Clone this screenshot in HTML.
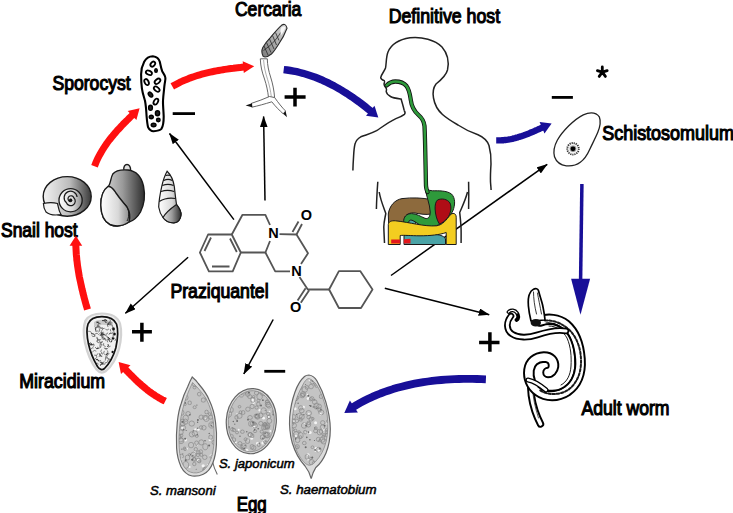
<!DOCTYPE html>
<html><head><meta charset="utf-8">
<style>
html,body{margin:0;padding:0;background:#fff;}
body{width:733px;height:513px;overflow:hidden;position:relative;}
svg{position:absolute;left:0;top:0;}
.t{font-family:"Liberation Sans",sans-serif;font-size:19.4px;fill:#000;stroke:#000;stroke-width:1.1px;}
.i{font-family:"Liberation Sans",sans-serif;font-size:12.5px;font-style:italic;fill:#000;stroke:#000;stroke-width:0.5px;}
.chem{fill:none;stroke:#555;stroke-width:1.8;stroke-linejoin:round;}
.ar{fill:none;stroke:#000;stroke-width:1.5;}
</style></head><body>
<svg width="733" height="513" viewBox="0 0 733 513">
<defs>
<marker id="ah" markerWidth="11" markerHeight="8" refX="10.5" refY="3.8" orient="auto" markerUnits="userSpaceOnUse">
<path d="M0,0 L11,3.8 L0,7.6 Z" fill="#000"/>
</marker>
<filter id="blur1" x="-20%" y="-20%" width="140%" height="140%"><feGaussianBlur stdDeviation="0.7"/></filter>
<linearGradient id="gc" x1="0" y1="1" x2="1" y2="0">
<stop offset="0" stop-color="#7a7a7a"/><stop offset="0.45" stop-color="#a8a8a8"/><stop offset="1" stop-color="#dadada"/>
</linearGradient>
<linearGradient id="g1" x1="0" y1="0" x2="1" y2="0">
<stop offset="0" stop-color="#f2f2f2"/><stop offset="0.55" stop-color="#bcbcbc"/><stop offset="1" stop-color="#3a3a3a"/>
</linearGradient>
<linearGradient id="g2" x1="0" y1="0" x2="1" y2="0">
<stop offset="0" stop-color="#e0e0e0"/><stop offset="0.5" stop-color="#9a9a9a"/><stop offset="1" stop-color="#2e2e2e"/>
</linearGradient>
<linearGradient id="g3" x1="0" y1="0" x2="1" y2="0">
<stop offset="0" stop-color="#ffffff"/><stop offset="0.6" stop-color="#d8d8d8"/><stop offset="1" stop-color="#8a8a8a"/>
</linearGradient>
<pattern id="tex" width="16" height="16" patternUnits="userSpaceOnUse">
<rect width="16" height="16" fill="#d2d2d2"/>
<circle cx="3.8" cy="8.7" r="1.0" fill="#f2f2f2"/><circle cx="10.0" cy="1.0" r="0.6" fill="#f2f2f2"/><circle cx="4.1" cy="3.7" r="1.6" fill="#f2f2f2"/><circle cx="8.7" cy="8.8" r="1.0" fill="#888"/><circle cx="3.7" cy="2.4" r="1.5" fill="#fff"/><circle cx="11.9" cy="10.7" r="0.7" fill="#9a9a9a"/><circle cx="9.5" cy="14.7" r="1.0" fill="#fff"/><circle cx="6.3" cy="12.8" r="1.0" fill="#888"/><circle cx="14.1" cy="1.6" r="0.7" fill="#b5b5b5"/><circle cx="4.1" cy="10.8" r="1.4" fill="#777"/><circle cx="6.7" cy="13.3" r="1.2" fill="#fff"/><circle cx="9.3" cy="14.5" r="1.3" fill="#9a9a9a"/><circle cx="13.7" cy="15.9" r="1.3" fill="#888"/><circle cx="11.2" cy="5.2" r="1.1" fill="#aaa"/><circle cx="11.4" cy="3.4" r="1.4" fill="#777"/><circle cx="1.4" cy="12.8" r="1.0" fill="#888"/><circle cx="0.3" cy="6.8" r="1.0" fill="#aaa"/><circle cx="8.8" cy="14.8" r="0.9" fill="#b5b5b5"/><circle cx="15.2" cy="15.5" r="0.9" fill="#777"/><circle cx="5.8" cy="2.2" r="1.5" fill="#fff"/><circle cx="7.4" cy="8.3" r="1.2" fill="#aaa"/><circle cx="14" cy="8" r="1.3" fill="#fff"/><circle cx="13" cy="12.5" r="1.1" fill="#f4f4f4"/>
</pattern>
</defs>

<!-- ===== TEXT ===== -->
<text class="t" x="52.40" y="89.60" textLength="78.30" lengthAdjust="spacingAndGlyphs">Sporocyst</text>
<text class="t" x="234.90" y="15.90" textLength="66.50" lengthAdjust="spacingAndGlyphs">Cercaria</text>
<text class="t" x="388.70" y="22.60" textLength="111.40" lengthAdjust="spacingAndGlyphs">Definitive host</text>
<text class="t" x="602.20" y="139.60" textLength="131.80" lengthAdjust="spacingAndGlyphs">Schistosomulum</text>
<text class="t" x="1.00" y="237.00" textLength="76.60" lengthAdjust="spacingAndGlyphs">Snail host</text>
<text class="t" x="170.40" y="298.30" textLength="98.20" lengthAdjust="spacingAndGlyphs">Praziquantel</text>
<text class="t" x="19.30" y="388.00" textLength="85.80" lengthAdjust="spacingAndGlyphs">Miracidium</text>
<text class="t" x="581.40" y="415.20" textLength="88.10" lengthAdjust="spacingAndGlyphs">Adult worm</text>
<text class="t" x="236.70" y="510.60" textLength="30.10" lengthAdjust="spacingAndGlyphs">Egg</text>
<text class="i" x="218.9" y="467.7" textLength="75.7" lengthAdjust="spacingAndGlyphs">S. japonicum</text>
<text class="i" x="150.0" y="494.6" textLength="65.6" lengthAdjust="spacingAndGlyphs">S. mansoni</text>
<text class="i" x="280.0" y="494.4" textLength="96.5" lengthAdjust="spacingAndGlyphs">S. haematobium</text>

<!-- ===== ARROWS ===== -->
<g stroke-linejoin="round">
<path d="M172.3,86.4 L174.2,85.3 L176.1,84.3 L178.0,83.3 L179.9,82.3 L181.9,81.4 L183.8,80.5 L185.8,79.7 L187.8,78.9 L189.7,78.1 L191.7,77.4 L193.8,76.7 L195.8,76.0 L197.8,75.4 L199.8,74.8 L201.9,74.2 L204.0,73.6 L206.0,73.1 L208.1,72.6 L210.2,72.1 L212.3,71.7 L214.3,71.3 L216.4,70.9 L218.5,70.5 L220.7,70.1 L222.8,69.8 L224.9,69.4 L227.0,69.1 L229.1,68.8 L231.2,68.5 L233.4,68.3 L235.5,68.0 L237.6,67.8 L239.8,67.6 L241.9,67.3 L244.0,67.1 L244.4,67.1" fill="none" stroke="#ff1010" stroke-width="7"/>
<path d="M243.8,73.1 L254.2,66.2 L242.7,61.3 Z" fill="#ff1010"/>
<path d="M94.5,166.2 L95.2,164.4 L95.9,162.7 L96.6,161.0 L97.4,159.3 L98.2,157.6 L99.1,155.9 L100.0,154.3 L100.9,152.7 L101.8,151.1 L102.8,149.5 L103.8,147.9 L104.8,146.4 L105.9,144.8 L106.9,143.3 L108.0,141.8 L109.1,140.3 L110.3,138.9 L111.4,137.4 L112.6,136.0 L113.8,134.5 L115.0,133.1 L116.2,131.7 L117.4,130.3 L118.7,129.0 L120.0,127.6 L121.2,126.2 L122.5,124.9 L123.8,123.5 L125.1,122.2 L126.5,120.9 L127.8,119.6 L129.1,118.3 L130.5,116.9 L131.8,115.6 L132.9,114.6" fill="none" stroke="#ff1010" stroke-width="7"/>
<path d="M136.4,120.0 L139.6,108.2 L127.7,110.9 Z" fill="#ff1010"/>
<path d="M87.5,309.5 L87.0,307.7 L86.4,305.9 L85.9,304.1 L85.4,302.3 L84.9,300.4 L84.4,298.6 L83.9,296.8 L83.5,295.0 L83.0,293.2 L82.6,291.3 L82.1,289.5 L81.7,287.7 L81.3,285.8 L80.9,284.0 L80.5,282.1 L80.1,280.3 L79.7,278.5 L79.3,276.6 L79.0,274.8 L78.7,272.9 L78.4,271.1 L78.1,269.2 L77.8,267.3 L77.5,265.5 L77.3,263.6 L77.1,261.8 L76.8,259.9 L76.7,258.0 L76.5,256.1 L76.3,254.3 L76.2,252.4 L76.1,250.5 L76.0,248.6 L75.9,246.8 L75.8,244.9 L75.8,244.6" fill="none" stroke="#ff1010" stroke-width="7"/>
<path d="M82.2,245.8 L75.9,235.8 L69.6,245.8 Z" fill="#ff1010"/>
<path d="M165.3,401.2 L163.9,400.5 L162.5,399.8 L161.2,399.1 L159.8,398.3 L158.5,397.6 L157.2,396.8 L155.8,396.0 L154.6,395.1 L153.3,394.3 L152.0,393.4 L150.8,392.5 L149.5,391.6 L148.3,390.7 L147.1,389.7 L145.9,388.8 L144.7,387.8 L143.5,386.8 L142.3,385.8 L141.2,384.8 L140.0,383.8 L138.9,382.7 L137.7,381.7 L136.6,380.6 L135.5,379.6 L134.4,378.5 L133.3,377.4 L132.2,376.3 L131.1,375.2 L130.0,374.1 L128.9,373.0 L127.8,371.9 L126.8,370.8 L125.7,369.6 L124.9,368.8" fill="none" stroke="#ff1010" stroke-width="7"/>
<path d="M130.5,365.3 L118.6,362.0 L121.0,374.1 Z" fill="#ff1010"/>
<path d="M283.7,69.6 L287.0,70.0 L290.2,70.5 L293.5,71.1 L296.7,71.7 L299.8,72.5 L303.0,73.3 L306.1,74.2 L309.2,75.2 L312.2,76.2 L315.3,77.3 L318.3,78.5 L321.3,79.7 L324.2,81.1 L327.1,82.4 L330.0,83.9 L332.9,85.3 L335.7,86.9 L338.6,88.5 L341.4,90.1 L344.1,91.8 L346.9,93.5 L349.6,95.3 L352.3,97.1 L354.9,99.0 L357.6,100.9 L360.2,102.8 L362.8,104.8 L365.4,106.8 L367.9,108.8 L370.5,110.9 L371.2,111.5" fill="none" stroke="#180f98" stroke-width="7.4"/>
<path d="M366.0,115.8 L378.3,117.5 L374.5,105.7 Z" fill="#180f98"/>
<path d="M496.2,140.4 L497.7,140.4 L499.2,140.4 L500.7,140.4 L502.2,140.3 L503.6,140.2 L505.1,140.0 L506.5,139.8 L508.0,139.6 L509.4,139.3 L510.8,139.1 L512.3,138.8 L513.7,138.4 L515.1,138.1 L516.5,137.7 L517.9,137.3 L519.3,136.8 L520.7,136.4 L522.1,135.9 L523.5,135.4 L524.8,134.9 L526.2,134.4 L527.6,133.9 L529.0,133.4 L530.3,132.8 L531.7,132.2 L533.0,131.7 L534.4,131.1 L535.7,130.5 L537.1,129.9 L538.4,129.3 L539.8,128.7 L541.1,128.1 L542.5,127.5 L543.2,127.2" fill="none" stroke="#180f98" stroke-width="6.4"/>
<path d="M544.5,133.4 L551.6,123.6 L539.6,122.0 Z" fill="#180f98"/>
<path d="M485.9,379.3 L481.4,379.1 L477.0,379.0 L472.5,378.9 L468.0,378.9 L463.5,378.9 L459.1,379.0 L454.6,379.1 L450.1,379.3 L445.6,379.6 L441.2,380.0 L436.7,380.4 L432.2,380.9 L427.8,381.5 L423.4,382.1 L419.0,382.9 L414.6,383.7 L410.2,384.6 L405.9,385.6 L401.6,386.7 L397.3,387.8 L393.0,389.1 L388.8,390.5 L384.6,391.9 L380.4,393.5 L376.3,395.2 L372.2,396.9 L368.2,398.8 L364.2,400.8 L360.2,402.9 L356.3,405.1 L352.9,407.2" fill="none" stroke="#180f98" stroke-width="7.8"/>
<path d="M349.9,400.6 L344.3,412.9 L357.9,412.6 Z" fill="#180f98"/>
<path d="M581.9,184 L580.6,280" stroke="#180f98" stroke-width="3.5" fill="none"/>
<path d="M571.1,278.8 L590.1,278.8 L580.5,314.7 Z" fill="#180f98"/>
</g>

<!-- ===== PLUS / MINUS ===== -->
<g stroke="#000" stroke-width="2.8" fill="none">
<path d="M172.7,113.6 H195"/>
<path d="M551.8,97.4 H572.9"/>
<path d="M264.3,371.3 H285.2"/>
</g>
<g stroke="#000" stroke-width="3.5" fill="none">
<path d="M284.6,96.9 H305.6 M295,87.8 V106.6"/>
<path d="M132,331.8 H151.9 M141.9,322.7 V341.7"/>
<path d="M479.1,342.6 H499.5 M489.9,332.3 V351.7"/>
</g>
<path d="M602.3,72.2 L602.3,67.0 M602.3,72.2 L607.2,70.6 M602.3,72.2 L605.4,76.4 M602.3,72.2 L599.2,76.4 M602.3,72.2 L597.4,70.6" stroke="#000" stroke-width="2.8" stroke-linecap="round" fill="none"/>

<!-- ===== BLACK THIN ARROWS (praziquantel) ===== -->
<g class="ar">
<line x1="233.9" y1="219.6" x2="169.5" y2="133.5" marker-end="url(#ah)"/>
<line x1="265" y1="200.4" x2="263.6" y2="116.5" marker-end="url(#ah)"/>
<line x1="188.1" y1="257.2" x2="125.4" y2="313.3" marker-end="url(#ah)"/>
<line x1="273.2" y1="319.5" x2="243.8" y2="374" marker-end="url(#ah)"/>
<line x1="384.8" y1="288.3" x2="489.2" y2="314.7" marker-end="url(#ah)"/>
<line x1="391" y1="275.5" x2="547.2" y2="164.3" marker-end="url(#ah)"/>
</g>

<!-- ===== SPOROCYST ===== -->
<g>
<path d="M152.8,56.3 C149,56.3 146,58.5 144.2,61.8 C142,66 141,70 141.1,74.3 C141.1,79 141.3,84 141.9,88.3 C142.5,93 144,97 145,100.8 C146,106 146.3,111 146.6,116.4 C147,121 147.3,124.5 148.1,127.3 C149.5,130 151.5,131.3 153.6,131.2 C157,131 160,130.5 161.4,128.9 C163.3,126 163.7,121 163.7,116.4 C163.5,110 162.8,105 163,100.8 C163.3,95 164,90 164.5,85.2 C165,81 165.8,79 165.3,77.4 C164.8,74.5 163,73 162.2,71.2 C161,68 160.5,64.5 159.8,61.8 C159,58.8 157.5,57 152.8,56.3 Z" fill="#fff" stroke="#000" stroke-width="2.1"/>
<g fill="#fff" stroke="#000" stroke-width="1.8">
<ellipse cx="152.8" cy="64.1" rx="2.8" ry="2" transform="rotate(-50 152.8 64.1)"/>
<ellipse cx="148.9" cy="72.7" rx="3.2" ry="2" transform="rotate(25 148.9 72.7)"/>
<ellipse cx="146.6" cy="82.1" rx="2" ry="3.2" transform="rotate(-25 146.6 82.1)"/>
<ellipse cx="157.5" cy="81.3" rx="3.3" ry="2" transform="rotate(-40 157.5 81.3)"/>
<ellipse cx="156.7" cy="89.1" rx="3.3" ry="2" transform="rotate(40 156.7 89.1)"/>
<ellipse cx="155.9" cy="101.6" rx="2" ry="3.2" transform="rotate(30 155.9 101.6)"/>
</g>
<g fill="#222" stroke="#000" stroke-width="1.4">
<ellipse cx="156" cy="70.4" rx="1.3" ry="1.8"/>
<ellipse cx="150.5" cy="94.6" rx="1.7" ry="2.8" transform="rotate(-40 150.5 94.6)"/>
<ellipse cx="150.5" cy="107.8" rx="1.9" ry="2.6"/>
<ellipse cx="157.5" cy="113.3" rx="2.1" ry="2.5"/>
<ellipse cx="151.3" cy="117" rx="2" ry="1.8"/>
<ellipse cx="158.3" cy="120" rx="1.8" ry="1.7"/>
<ellipse cx="153.6" cy="125" rx="2.4" ry="1.8"/>
</g>
</g>

<!-- ===== CERCARIA ===== -->
<g>
<path d="M281.5,25.3 Q285.7,22.5 287,28.2 C284.5,35 281.5,40 278.6,44.2 C276,48.3 273.8,51.8 271.4,54 Q266,58.3 263.2,56.4 Q260.8,52 262.8,47.6 C265,43.5 267.3,40.6 270.1,37.8 C273.5,33.8 277.5,28.8 281.5,25.3 Z" fill="url(#gc)" stroke="#2a2a2a" stroke-width="1.1"/>
<g stroke="#2a2a2a" stroke-width="0.8" fill="none">
<path d="M264,46 L268,55 M266.5,42.5 L271,52.5 M269.5,39 L274,49 M272.5,35.5 L276.5,45 M275.5,32.5 L279,40.5"/>
<path d="M263.5,50.5 C267,48 271,45 274.5,41 C277.5,37.5 280.5,33 283,29"/>
</g>
<path d="M281.3,27.6 C282.8,26 285,26 285.2,27.8 C284.5,30.5 282.8,33 281.2,35 C280,33 280.2,29.5 281.3,27.6 Z" fill="#f7f7f7"/>
<path d="M260.3,58.8 C260.5,66 262,72 264.5,79 C266.5,85 267.8,91 268.5,97.5 L274.6,97.5 C274,90 272.8,84 270.6,77 C268.6,71 267.4,65 267.3,58.8 Z" fill="#fff" stroke="#555" stroke-width="0.9"/>
<path d="M263.6,60 C264,67 265.5,73 267.6,79.5 C269.5,85.5 270.6,91 271.3,96.5" fill="none" stroke="#777" stroke-width="0.6"/>
<path d="M269.5,96.5 C264,99 258,101.2 251.5,103.3 L251.8,107.2 C258.5,105.8 264.5,104 271.8,101.8 C275.5,106.5 279.5,110.5 283.2,113.8 L285.6,111 C282,107.5 278.5,103 274.6,97.5 Z" fill="#fff" stroke="#555" stroke-width="0.9"/>
<path d="M252,103.2 L245.6,105.6 L252.2,107.3 Z" fill="#111"/>
<path d="M283.2,113.8 L287,117.2 L285.6,111 Z" fill="#111"/>
</g>

<!-- ===== SNAILS ===== -->
<g stroke="#1a1a1a" stroke-width="1.4">
<ellipse cx="67.2" cy="196.4" rx="24" ry="19.8" fill="url(#g1)"/>
<path d="M43.4,203.5 C48,202.5 53,202.3 57.5,203.5 C58.5,207 58.5,211 61,214.5 C55,215.5 49,214.5 46,212 C44.2,209.5 43.5,206.5 43.4,203.5 Z" fill="#f4f4f4" stroke-width="1.2"/>
<circle cx="70.6" cy="200.2" r="11.6" fill="url(#g3)" stroke-width="1.3"/>
<path d="M70.6,200.2 m0,-1.2 a1.4,1.4 0 1 1 -1.6,2 a3,3 0 1 1 4.8,-3.3 a4.6,4.6 0 1 1 -7.5,4.8 a6.5,6.5 0 1 1 10.8,-5.5" fill="none" stroke-width="1.2"/>
<circle cx="70.6" cy="200.2" r="1.6" fill="#111" stroke="none"/>
</g>
<g stroke="#1a1a1a" stroke-width="1.4">
<path d="M124,170.8 C123,166.5 125,164.5 127,164.5 C129,164.5 131,166.5 130.5,170.8 Z" fill="#ddd"/>
<path d="M112.8,174 C116,170 122,169.5 128,170 C136,171 141.5,177 143.5,186 C145.5,196 144,205 140.5,212 C137,218 133,221 129,222 C123,226 116,227 110,224.5 C104,221.5 101,214 100.8,205 C100.8,196 103,190 108,186.5 C110.5,185 110.5,178 112.8,174 Z" fill="url(#g2)"/>
<path d="M108,186.5 C112,186 114,190 116,193 C120,199 124,203 127,207 C130,212 130.5,217 129,222 C123,226 116,227 110,224.5 C104,221.5 101,214 100.8,205 C100.8,196 103,190 108,186.5 Z" fill="url(#g3)"/>
<path d="M121,200 C124,203 127.5,206 128.5,211 C129,215 128.5,219 127,221" fill="none" stroke-width="1"/>
</g>
<g stroke="#1a1a1a" stroke-width="1.2">
<path d="M167.1,171.3 C165,175 163,181 161.7,186.6 C160.5,192 159,199 158.7,207 C159.5,212 161,215 163,217.5 C165,220.5 169,222.8 173.8,222.9 C177.5,222.5 180.5,220 181,215 C181.5,211 179.5,208.5 176.5,204.5 C175.5,197 174.8,192 174.4,187 C173.5,181 172,176 167.1,171.3 Z" fill="url(#g3)"/>
<path d="M163,217.5 C165.5,213 170,209 176.5,204.5 C179.5,208.5 181.5,211 181,215 C180.5,220 177.5,222.5 173.8,222.9 C169,222.8 165,220.5 163,217.5 Z" fill="url(#g2)"/>
<path d="M165.5,175.5 C167,175 169,175 170,175.5 M163.8,180.5 C166.5,179 169.5,179 172.3,180.5 M162.3,185.5 C166,184 170,184 173.6,185.5 M161,191.5 C165,190 170,190 174.2,191.5 M159.3,201.5 C164,198.5 170,197.5 175.6,198.5" fill="none"/>
</g>

<!-- ===== HUMAN ===== -->
<g fill="none" stroke="#222" stroke-width="1.5" stroke-linejoin="round">
<path d="M404.2,110.5 C403,105 401.5,101 401.2,99.1 C397,98.5 393,98 390.5,96.5 C388,95 386.5,93.5 386.2,91.5 C386.5,90 386.8,89.5 386.3,88.5 C385,87 384,85.5 384,84 C384.5,82.5 385,81.5 384.3,80.6 C382.5,80 380.8,79 380.7,77.6 C381.5,74 384.5,71 385.5,68 C386.5,63 386,57 388,52 C391,45 399,39.5 410,37.8 C422,36.5 435,40 442,47 C448,54 449,63 447.5,70 C446,76 441,80 436,84 C433,88 432.8,94 433.5,98 C434.5,104 437,109.5 442.5,114.5 C447,118.5 452,121.5 458,125 C464,129 471,132.3 478,134.8 C483,137 487,140 489,145.5 C490.5,151 491.2,158 491,164 C490.6,170 490.3,176 490.5,182 C490.7,185 491,187.5 491.1,190"/>
<path d="M404.2,110.5 C405.2,112 405.6,113.2 404.4,114.4 C402,116.4 399,117.5 395.9,118.6 C390,121.2 383.5,126 376.6,130.7 C371,133.8 365,135 360.8,136.8 C357.5,138.5 355.8,141 355,144 C354,148 353.8,152 353.6,156 C353.2,162 353,166 352.9,170.5"/>
<path d="M377.8,181.8 C377.2,190 376.6,200 376.4,209 M379.2,192 C380.5,200 383.5,207 385.8,213.5 C385,218 383.8,222 383.8,227 C384,233 384.3,238 384.5,243"/>
<path d="M468.6,181.8 C468.8,190 468.8,200 468.6,209 M467.5,192 C465.5,200 462,207 459.7,212.5 C460.3,218 461,224 461.1,230 C461.2,235 461.1,239 461.1,243"/>
</g>
<!-- organs -->
<g stroke="#1a1a1a" stroke-width="1" stroke-linejoin="round">
<path d="M388.3,214 C389.5,205.5 395,199.8 402,198.6 C412,197.4 422,197.8 431,199.5 L431,214 C426,215 420,214 415,213 C410,212.5 406,214 404.5,218 L404,223 L388.6,223.5 Z" fill="#8d6a3d"/>
<path d="M404,235 C412,234 426,234 436,234.5 C441,235 444.5,236.5 445.5,239 L445.5,244.5 L404,244.5 Z" fill="#4aa3a6"/>
<path d="M406,217 C409,215.5 413,216 415,219 L416,225 L407,225.5 C405,223 404.8,219.5 406,217 Z" fill="#4aa3a6"/>
<path d="M424.8,186 C425.5,189 428.5,190.5 432.5,190.8 C438.5,190.8 446.5,190.4 451.5,194 C455.5,198 455.3,205 452.8,211 C450.3,216.5 446,220.5 441,223.5 C436,226.5 430,227.8 425,226.8 C419.5,225.8 416.5,222 412,220.2 C409.5,219.6 408,221.2 408.8,224 L411.5,227.5 C407.5,228.3 404.2,226 403.7,222 C403.3,217.2 406.5,213.6 411.5,213.6 C416.5,213.6 420.5,216.5 425,218.3 C428.3,219.5 430.3,216.5 430.2,212 C430,204 426,196 424.8,186 Z" fill="#2e9a3b"/>
<path d="M437.5,200 C441.5,198 447.5,199 450,203 C452,208 450.5,214 447.5,218 C445,221 442,223 439.5,224.2 C436.8,220.2 435.3,214.2 435.1,209 C435,205 435.5,202 437.5,200 Z" fill="#b00d16"/>
<path d="M388.3,244.5 L388.3,224.5 C388.5,221.5 391.5,220.5 395.5,220.8 C410,222.3 424,226.8 436.5,225.8 C443,225 446.5,219.5 450,215.2 C452.5,212.3 456.2,213 456.2,217.2 L456.2,244.5 L446.2,244.5 L446.2,232.5 C440,234.8 430,235.8 420,235.8 C411,235.8 404,235 400.2,235.5 L400.2,244.5 Z" fill="#f3cd20"/>
<path d="M391.2,239.5 L400,239.5 L400,243.6 L391.2,243.6 Z M403.8,239.3 L410.5,238.8 L410.5,243.6 L403.8,243.6 Z" fill="#e3171b" stroke="none"/>
</g>
<!-- esophagus -->
<path d="M386.6,85.4 C389,83 392,81.5 395.3,81.5 C400,81.5 404,83 406.5,86 C409.5,90 410,95 410.8,100 C411.5,106 414,111 418.5,115 C422,118 424,121 424.5,126 C425.2,140 425.5,165 426,186 C426.5,190 427,191 427.5,192" fill="none" stroke="#111" stroke-width="4.3" stroke-linecap="round"/>
<path d="M386.6,85.4 C389,83 392,81.5 395.3,81.5 C400,81.5 404,83 406.5,86 C409.5,90 410,95 410.8,100 C411.5,106 414,111 418.5,115 C422,118 424,121 424.5,126 C425.2,140 425.5,165 426,186 C426.5,190 427,191 427.5,192" fill="none" stroke="#2e9a3b" stroke-width="2.6" stroke-linecap="round"/>

<!-- ===== SCHISTOSOMULUM ===== -->
<g transform="translate(0.3,0.8)">
<path d="M591,112 C594,112 597,113 599,116 C600.5,120 599.8,126 597.5,131.5 C595,137.5 592,143 589.5,148.5 C587.5,153 585,158 580,161.5 C576,164.5 571,165.5 566,165 C560,164.3 556,161 554.2,156 C552.8,150.5 554,145 557,139.5 C560,134 564,129.5 568.5,125 C573,120.5 578,116.5 583,114 C586,112.6 588.5,112 591,112 Z" fill="#fff" stroke="#222" stroke-width="1.3"/>
<circle cx="572.7" cy="148" r="5.8" fill="#f2f2f2" stroke="#333" stroke-width="1.8" stroke-dasharray="1.2 0.9"/>
<circle cx="572.7" cy="148" r="3.3" fill="#999"/>
<circle cx="572.7" cy="148" r="2.4" fill="#000"/>
</g>

<!-- ===== MIRACIDIUM ===== -->
<g>
<clipPath id="mirclip"><path d="M101.9,316.6 C108,316.6 114,318.5 116.5,324 C118.5,330 117.5,340 115.8,348 C113.5,356 109,364 104.5,368.5 C102,370.5 99.5,369.5 97.5,366.5 C93,359 90,351 88.5,344 C87,337 86.3,329 88,324 C90,318.8 95.5,316.6 101.9,316.6 Z"/></clipPath>
<path d="M102,313.5 C110,313.5 117.5,316.5 120,323.5 C122,331 121,341 119,349 C116.5,358 111.5,366.5 106,371 C102.5,373.5 99,372.5 96.5,369.5 C91,362.5 87,352 85,343 C83.5,336 83,327 85.5,320.5 C88.5,315.5 95,313.5 102,313.5 Z" fill="#eeeeee" stroke="#d2d2d2" stroke-width="2.2" filter="url(#blur1)"/>
<path d="M101.9,316.6 C108,316.6 114,318.5 116.5,324 C118.5,330 117.5,340 115.8,348 C113.5,356 109,364 104.5,368.5 C102,370.5 99.5,369.5 97.5,366.5 C93,359 90,351 88.5,344 C87,337 86.3,329 88,324 C90,318.8 95.5,316.6 101.9,316.6 Z" fill="#f0f0f0"/>
<g clip-path="url(#mirclip)">
<path d="M94,322 C98,319 106,319 113,322 L113,327 C106,324 99,324 94,327 Z" fill="#c8c8c8"/>
<path d="M106.4,354.6 Q109.0,353.8 107.5,350.8 M102.1,328.8 Q101.5,326.7 99.1,328.0 M110.4,324.3 Q112.0,323.9 111.1,322.1 M106.3,322.6 Q107.7,324.8 110.0,322.6 M94.9,327.2 Q96.5,329.2 98.6,326.8 M104.1,351.2 Q102.3,353.3 105.2,355.0 M114.0,331.5 Q112.4,331.3 112.5,333.3 M97.4,347.4 Q98.7,349.4 100.8,347.4 M98.5,332.1 Q100.5,331.8 99.7,329.4 M97.8,341.0 Q98.8,339.9 97.2,339.0 M110.0,359.9 Q111.1,362.2 113.5,360.3 M99.3,346.1 Q100.0,347.4 101.3,346.2 M94.5,355.3 Q96.8,356.7 98.0,353.6 M98.6,334.4 Q97.6,332.2 95.1,333.9 M91.6,333.7 Q91.9,331.1 88.6,331.3 M98.5,364.1 Q98.0,362.3 96.0,363.3 M97.9,325.2 Q98.0,326.8 99.9,326.3 M100.4,328.3 Q100.4,325.8 97.3,326.3 M101.8,337.9 Q102.3,340.5 105.4,339.2 M106.7,357.0 Q106.5,359.0 108.9,358.8 M97.3,339.6 Q98.7,341.7 101.0,339.5 M102.7,353.9 Q101.5,352.6 100.1,354.3 M100.3,323.6 Q97.6,323.0 97.5,326.4 M103.0,333.6 Q103.0,335.4 105.1,335.0 M99.1,356.9 Q101.3,355.9 99.6,353.5 M107.6,355.5 Q105.2,355.2 105.4,358.1 M96.9,341.3 Q99.0,340.2 97.3,337.9 M107.2,346.2 Q108.2,348.1 110.3,346.4 M96.0,350.9 Q94.2,349.2 92.5,351.8 M107.1,357.5 Q104.8,357.4 105.2,360.2 M109.7,359.1 Q107.1,358.9 107.5,362.0 M113.4,351.8 Q115.2,353.9 117.2,351.2 M103.5,343.5 Q102.3,345.8 105.4,346.7 M115.2,340.8 Q116.7,338.9 114.0,337.6 M109.4,324.9 Q111.5,324.1 110.0,321.8 M107.6,337.9 Q108.1,335.4 105.1,335.4 M106.8,353.5 Q107.5,355.0 109.1,353.9 M101.3,349.8 Q99.6,351.4 102.0,353.1 M102.2,327.8 Q102.6,329.3 104.3,328.5 M97.9,325.4 Q97.0,326.6 98.6,327.4 M102.0,335.8 Q102.3,333.6 99.6,333.7 M96.8,337.3 Q96.4,339.9 99.5,339.7 M106.2,320.9 Q105.6,319.1 103.6,320.2 M111.9,337.8 Q114.2,337.4 113.2,334.8 M99.3,323.4 Q99.4,321.2 96.8,321.6 M106.0,334.3 Q107.4,334.7 107.6,333.0 M92.0,345.4 Q92.3,343.8 90.3,343.9 M106.6,362.3 Q104.7,361.9 104.6,364.4 M95.3,331.2 Q96.6,332.6 98.1,330.7 M105.7,329.5 Q107.0,331.1 108.7,329.2 M100.6,332.6 Q101.9,334.2 103.6,332.3 M97.0,340.8 Q96.6,343.0 99.4,343.0 M101.4,331.2 Q103.8,330.3 102.1,327.7 M110.9,328.8 Q109.4,329.5 110.6,331.1 M106.0,340.7 Q106.8,338.6 104.1,338.1 M109.8,322.1 Q111.4,321.3 110.0,319.5 M103.9,333.5 Q101.9,334.1 103.1,336.4 M102.0,334.8 Q103.8,333.5 101.9,331.6 M101.8,363.7 Q103.8,364.3 104.1,361.7 M101.0,345.9 Q102.5,344.2 100.1,342.8 M102.5,363.4 Q100.6,362.9 100.4,365.2 M97.3,359.2 Q97.7,361.7 100.7,360.6 M108.4,338.5 Q106.1,339.3 107.6,342.0 M102.4,344.6 Q101.4,343.0 99.7,344.6 M93.3,346.5 Q94.8,346.2 94.1,344.5 M95.4,358.6 Q97.7,357.9 96.3,355.4 M112.6,327.4 Q113.5,324.8 110.2,324.3 M108.9,323.0 Q106.4,323.8 107.9,326.7 M93.2,347.8 Q91.7,347.0 91.2,348.9 M92.0,335.7 Q92.2,337.2 93.9,336.6" fill="none" stroke="#666" stroke-width="0.8" stroke-linecap="round"/>
<path d="M102.0,335.4 Q101.2,337.9 104.4,338.3 M104.5,348.1 Q105.1,349.9 107.2,348.8 M108.7,339.5 Q109.9,338.4 108.3,337.2 M103.2,364.0 Q103.2,361.6 100.2,362.1 M99.7,354.8 Q99.6,356.6 101.8,356.3 M107.9,353.7 Q106.5,353.0 106.0,354.8 M96.5,326.9 Q94.1,327.8 95.8,330.5 M99.6,341.6 Q100.4,343.4 102.4,342.0 M105.7,322.3 Q105.5,319.7 102.4,320.5 M91.3,344.1 Q92.0,345.4 93.5,344.3 M102.9,363.9 Q101.2,363.0 100.5,365.2 M106.9,320.9 Q106.8,319.2 104.8,319.7 M90.5,344.9 Q90.7,343.3 88.7,343.4 M95.6,347.8 Q96.2,349.6 98.3,348.5 M107.9,346.7 Q109.3,346.1 108.2,344.5 M98.7,360.9 Q98.6,358.9 96.2,359.5 M111.4,333.1 Q110.0,332.2 109.2,334.1 M101.4,332.9 Q101.5,335.2 104.2,334.6 M111.6,341.9 Q112.8,340.6 111.0,339.4 M109.7,338.1 Q107.5,339.9 110.1,342.0 M100.2,335.4 Q102.1,335.6 102.0,333.3 M107.7,324.9 Q109.5,324.9 109.1,322.8 M94.8,336.2 Q95.2,333.5 91.8,333.7 M98.9,323.3 Q98.6,321.7 96.8,322.5 M91.4,344.9 Q92.3,343.7 90.7,342.9" fill="none" stroke="#333" stroke-width="1" stroke-linecap="round"/>
</g>
<path d="M101.9,316.6 C108,316.6 114,318.5 116.5,324 C118.5,330 117.5,340 115.8,348 C113.5,356 109,364 104.5,368.5 C102,370.5 99.5,369.5 97.5,366.5 C93,359 90,351 88.5,344 C87,337 86.3,329 88,324 C90,318.8 95.5,316.6 101.9,316.6 Z" fill="none" stroke="#111" stroke-width="1.7"/>
<g fill="#111">
<ellipse cx="113.5" cy="329" rx="1.4" ry="1.8"/>
<ellipse cx="114.5" cy="334" rx="1.3" ry="1.6"/>
<ellipse cx="113" cy="338.5" rx="1.1" ry="1.3"/>
<ellipse cx="112.5" cy="352" rx="1" ry="1.2"/>
</g>
</g>

<!-- ===== EGGS ===== -->
<clipPath id="ce1"><path d="M192.6,382.5 C197,387 202,392 206,398.5 C210,406 212.5,414 213.5,423 C214.2,431 214.2,438 213.8,445 C213.2,452 211.8,458 209.5,462.5 C207,467.5 203.5,471 199.5,472.3 C195.5,473.5 191.5,473 188,471 C184.5,468.5 182,464 180.5,458.5 C179.2,452 178.8,444 179,436 C179.3,427 180.5,418 182.5,410 C184.5,401 188,392 192.6,382.5 Z"/></clipPath>
<clipPath id="ce2"><ellipse cx="251.3" cy="421.2" rx="23" ry="30.6" transform="rotate(4 251.3 421.2)"/></clipPath>
<clipPath id="ce3"><path d="M308.5,378.5 C313,379.5 316.5,384 319.5,390 C323,397.5 325.8,406 327.2,415 C328.3,424 328,433 326.3,441 C324.3,449.5 320.5,456.5 315.2,462 C313,464.3 311,465.3 309,465.2 C306,464.8 303,461.5 300,457 C296,451 293.5,443 292.5,434.5 C291.6,426 292,417 293.8,408.5 C295.7,399.5 299,391.5 302.8,385 C304.5,381.5 306.3,379 308.5,378.5 Z"/></clipPath>
<g>
<path d="M212.6,462 C213.5,466 215,470 217.3,474.5" fill="none" stroke="#6a6a6a" stroke-width="1.1"/>
<path d="M192.2,377 C194.5,379 196.5,381 198.3,383.5 C203,389 206.8,394 209.2,400 C212.5,407 214.6,414 215.5,422 C216.6,430 216.8,437 216.4,444.4 C216,452 214.8,458 212.8,463 C210.5,469 207,472.5 203.3,474.2 C199.5,476 195.5,476.3 192.2,476 C187.5,475 183.5,471.5 181,466.7 C178.5,461 177,455 176.6,448 C176.2,440 176.4,431 177.3,422 C178.2,414 179.5,408 181.2,403.5 C183,397 185,392 187.6,387 C189,383.5 190.5,380 192.2,377 Z" fill="#dcdcdc" stroke="#656565" stroke-width="1.2"/>
<path d="M192.6,382.5 C197,387 202,392 206,398.5 C210,406 212.5,414 213.5,423 C214.2,431 214.2,438 213.8,445 C213.2,452 211.8,458 209.5,462.5 C207,467.5 203.5,471 199.5,472.3 C195.5,473.5 191.5,473 188,471 C184.5,468.5 182,464 180.5,458.5 C179.2,452 178.8,444 179,436 C179.3,427 180.5,418 182.5,410 C184.5,401 188,392 192.6,382.5 Z" fill="#c4c4c4"/>
<g clip-path="url(#ce1)"><g fill="#f4f4f4"><circle cx="185.6" cy="440.1" r="1.3"/><circle cx="197.6" cy="460.3" r="1.3"/><circle cx="209.7" cy="403.4" r="1.4"/><circle cx="208.0" cy="465.0" r="1.1"/><circle cx="189.7" cy="466.9" r="1.0"/><circle cx="214.9" cy="463.7" r="0.9"/><circle cx="186.9" cy="448.8" r="1.0"/><circle cx="181.6" cy="458.6" r="1.1"/><circle cx="207.2" cy="393.6" r="1.1"/><circle cx="203.4" cy="383.6" r="1.0"/><circle cx="203.2" cy="465.8" r="1.6"/><circle cx="182.3" cy="428.5" r="1.4"/><circle cx="196.6" cy="445.1" r="1.0"/><circle cx="180.6" cy="391.8" r="0.8"/><circle cx="198.4" cy="429.4" r="1.3"/><circle cx="183.4" cy="399.0" r="1.0"/><circle cx="209.1" cy="473.1" r="1.5"/><circle cx="181.5" cy="387.7" r="1.6"/><circle cx="195.1" cy="452.4" r="1.1"/><circle cx="195.3" cy="429.4" r="1.1"/><circle cx="200.2" cy="383.2" r="1.4"/><circle cx="209.2" cy="398.7" r="1.2"/><circle cx="205.4" cy="419.3" r="1.0"/><circle cx="184.1" cy="429.2" r="0.8"/><circle cx="211.0" cy="455.8" r="1.4"/><circle cx="209.8" cy="439.9" r="1.1"/></g><path d="M192.1,433.5 a2.7,2.4 0 1 0 5.4,0 a2.7,2.7 0 1 0 -5.4,0 M195.3,436.0 a1.5,1.4 0 1 0 3.0,0 a1.5,1.5 0 1 0 -3.0,0 M200.0,455.0 a1.4,1.1 0 1 0 2.7,0 a1.4,1.4 0 1 0 -2.7,0 M179.0,456.5 a2.3,1.7 0 1 0 4.6,0 a2.3,2.3 0 1 0 -4.6,0 M212.1,470.8 a2.2,2.1 0 1 0 4.5,0 a2.2,2.2 0 1 0 -4.5,0 M181.8,383.4 a2.0,1.5 0 1 0 4.1,0 a2.0,2.0 0 1 0 -4.1,0 M183.8,404.3 a1.2,1.1 0 1 0 2.5,0 a1.2,1.2 0 1 0 -2.5,0 M192.3,459.5 a2.0,1.9 0 1 0 4.1,0 a2.0,2.0 0 1 0 -4.1,0 M194.6,442.9 a1.9,1.6 0 1 0 3.9,0 a1.9,1.9 0 1 0 -3.9,0 M212.4,473.6 a2.5,2.5 0 1 0 5.1,0 a2.5,2.5 0 1 0 -5.1,0 M188.0,403.1 a1.7,1.2 0 1 0 3.3,0 a1.7,1.7 0 1 0 -3.3,0 M203.8,418.8 a2.6,2.2 0 1 0 5.1,0 a2.6,2.6 0 1 0 -5.1,0 M212.2,460.0 a1.2,0.9 0 1 0 2.4,0 a1.2,1.2 0 1 0 -2.4,0 M208.9,425.2 a2.8,2.4 0 1 0 5.5,0 a2.8,2.8 0 1 0 -5.5,0 M178.3,439.9 a2.4,2.0 0 1 0 4.9,0 a2.4,2.4 0 1 0 -4.9,0 M178.5,412.6 a2.7,2.8 0 1 0 5.5,0 a2.7,2.7 0 1 0 -5.5,0 M181.0,404.7 a1.4,1.0 0 1 0 2.7,0 a1.4,1.4 0 1 0 -2.7,0 M205.4,398.3 a2.1,1.8 0 1 0 4.2,0 a2.1,2.1 0 1 0 -4.2,0 M183.6,449.3 a1.4,1.3 0 1 0 2.8,0 a1.4,1.4 0 1 0 -2.8,0 M180.8,420.7 a1.5,1.2 0 1 0 3.1,0 a1.5,1.5 0 1 0 -3.1,0 M212.2,455.9 a1.7,1.8 0 1 0 3.4,0 a1.7,1.7 0 1 0 -3.4,0 M183.2,418.3 a2.6,2.5 0 1 0 5.1,0 a2.6,2.6 0 1 0 -5.1,0 M180.2,473.0 a1.5,1.2 0 1 0 3.1,0 a1.5,1.5 0 1 0 -3.1,0 M204.9,412.3 a1.7,1.2 0 1 0 3.3,0 a1.7,1.7 0 1 0 -3.3,0 M179.7,435.6 a1.6,1.5 0 1 0 3.2,0 a1.6,1.6 0 1 0 -3.2,0 M189.0,423.7 a2.7,2.4 0 1 0 5.5,0 a2.7,2.7 0 1 0 -5.5,0 M197.8,461.7 a1.5,1.1 0 1 0 3.0,0 a1.5,1.5 0 1 0 -3.0,0 M210.0,457.2 a1.6,1.2 0 1 0 3.2,0 a1.6,1.6 0 1 0 -3.2,0 M203.8,468.5 a1.5,1.6 0 1 0 3.0,0 a1.5,1.5 0 1 0 -3.0,0 M208.8,437.5 a1.9,1.4 0 1 0 3.7,0 a1.9,1.9 0 1 0 -3.7,0 M177.9,470.6 a1.6,1.6 0 1 0 3.2,0 a1.6,1.6 0 1 0 -3.2,0 M185.4,457.8 a2.2,1.8 0 1 0 4.3,0 a2.2,2.2 0 1 0 -4.3,0 M183.2,448.3 a1.3,1.0 0 1 0 2.6,0 a1.3,1.3 0 1 0 -2.6,0 M196.5,460.4 a2.2,1.8 0 1 0 4.4,0 a2.2,2.2 0 1 0 -4.4,0 M210.7,400.8 a1.2,1.0 0 1 0 2.5,0 a1.2,1.2 0 1 0 -2.5,0 M193.0,387.6 a1.5,1.3 0 1 0 3.0,0 a1.5,1.5 0 1 0 -3.0,0 M197.4,394.1 a1.8,1.9 0 1 0 3.6,0 a1.8,1.8 0 1 0 -3.6,0 M212.0,442.4 a2.3,2.2 0 1 0 4.6,0 a2.3,2.3 0 1 0 -4.6,0 M182.0,385.2 a1.2,1.3 0 1 0 2.5,0 a1.2,1.2 0 1 0 -2.5,0 M202.7,470.6 a1.2,1.2 0 1 0 2.5,0 a1.2,1.2 0 1 0 -2.5,0 M194.1,449.2 a1.7,1.9 0 1 0 3.4,0 a1.7,1.7 0 1 0 -3.4,0 M178.4,432.2 a2.4,2.5 0 1 0 4.8,0 a2.4,2.4 0 1 0 -4.8,0 M202.8,446.7 a2.5,2.6 0 1 0 4.9,0 a2.5,2.5 0 1 0 -4.9,0 M188.4,445.0 a2.6,2.8 0 1 0 5.3,0 a2.6,2.6 0 1 0 -5.3,0 M190.9,454.7 a2.6,2.4 0 1 0 5.2,0 a2.6,2.6 0 1 0 -5.2,0 M199.0,417.2 a2.1,2.0 0 1 0 4.3,0 a2.1,2.1 0 1 0 -4.3,0 M178.2,440.8 a2.8,2.9 0 1 0 5.6,0 a2.8,2.8 0 1 0 -5.6,0 M202.6,417.7 a2.4,2.2 0 1 0 4.8,0 a2.4,2.4 0 1 0 -4.8,0 M193.0,459.1 a1.3,1.3 0 1 0 2.7,0 a1.3,1.3 0 1 0 -2.7,0 M177.1,437.3 a2.0,1.6 0 1 0 3.9,0 a2.0,2.0 0 1 0 -3.9,0 M201.7,427.7 a2.2,2.3 0 1 0 4.4,0 a2.2,2.2 0 1 0 -4.4,0 M185.8,383.0 a1.7,1.6 0 1 0 3.4,0 a1.7,1.7 0 1 0 -3.4,0 M182.8,397.6 a2.6,2.6 0 1 0 5.3,0 a2.6,2.6 0 1 0 -5.3,0 M192.6,464.0 a1.7,1.7 0 1 0 3.4,0 a1.7,1.7 0 1 0 -3.4,0 M182.9,421.6 a2.5,2.7 0 1 0 5.0,0 a2.5,2.5 0 1 0 -5.0,0 M208.4,417.4 a2.1,1.8 0 1 0 4.3,0 a2.1,2.1 0 1 0 -4.3,0 M180.5,427.7 a2.5,2.6 0 1 0 5.1,0 a2.5,2.5 0 1 0 -5.1,0 M202.7,469.4 a1.6,1.3 0 1 0 3.3,0 a1.6,1.6 0 1 0 -3.3,0 M193.1,407.3 a1.5,1.3 0 1 0 3.1,0 a1.5,1.5 0 1 0 -3.1,0 M199.4,427.4 a1.7,1.8 0 1 0 3.4,0 a1.7,1.7 0 1 0 -3.4,0 M213.0,423.6 a1.3,0.9 0 1 0 2.6,0 a1.3,1.3 0 1 0 -2.6,0 M208.0,385.8 a2.3,2.2 0 1 0 4.7,0 a2.3,2.3 0 1 0 -4.7,0 M188.2,454.8 a1.2,0.9 0 1 0 2.5,0 a1.2,1.2 0 1 0 -2.5,0 M192.3,384.3 a2.5,2.0 0 1 0 5.1,0 a2.5,2.5 0 1 0 -5.1,0 M181.0,386.3 a2.2,1.9 0 1 0 4.4,0 a2.2,2.2 0 1 0 -4.4,0 M198.8,442.3 a2.5,2.7 0 1 0 5.0,0 a2.5,2.5 0 1 0 -5.0,0 M201.4,400.3 a2.0,1.5 0 1 0 3.9,0 a2.0,2.0 0 1 0 -3.9,0 M176.1,425.4 a2.3,1.8 0 1 0 4.7,0 a2.3,2.3 0 1 0 -4.7,0 M185.8,413.8 a2.3,2.1 0 1 0 4.6,0 a2.3,2.3 0 1 0 -4.6,0 M198.9,451.6 a1.8,1.9 0 1 0 3.7,0 a1.8,1.8 0 1 0 -3.7,0 M208.8,390.0 a2.7,2.7 0 1 0 5.4,0 a2.7,2.7 0 1 0 -5.4,0 M180.6,423.7 a2.2,2.3 0 1 0 4.4,0 a2.2,2.2 0 1 0 -4.4,0 M189.3,434.3 a2.6,2.7 0 1 0 5.2,0 a2.6,2.6 0 1 0 -5.2,0 M210.7,424.7 a2.2,1.8 0 1 0 4.5,0 a2.2,2.2 0 1 0 -4.5,0 M202.5,457.3 a2.2,2.2 0 1 0 4.5,0 a2.2,2.2 0 1 0 -4.5,0 M183.1,464.8 a2.8,3.0 0 1 0 5.5,0 a2.8,2.8 0 1 0 -5.5,0 M196.2,454.8 a1.7,1.8 0 1 0 3.4,0 a1.7,1.7 0 1 0 -3.4,0 M208.3,414.1 a1.3,1.2 0 1 0 2.7,0 a1.3,1.3 0 1 0 -2.7,0 M196.4,452.7 a2.0,1.4 0 1 0 4.0,0 a2.0,2.0 0 1 0 -4.0,0 M205.5,387.9 a2.5,1.9 0 1 0 5.0,0 a2.5,2.5 0 1 0 -5.0,0" fill="none" stroke="#8a8a8a" stroke-width="0.7"/><g fill="#6a6a6a"><circle cx="190.4" cy="454.5" r="0.6"/><circle cx="183.5" cy="429.5" r="0.9"/><circle cx="209.1" cy="445.4" r="1.0"/><circle cx="196.2" cy="469.3" r="0.5"/><circle cx="186.2" cy="430.5" r="0.6"/><circle cx="205.0" cy="440.8" r="0.8"/><circle cx="209.2" cy="433.5" r="0.7"/><circle cx="192.1" cy="459.8" r="1.0"/><circle cx="185.7" cy="460.3" r="1.0"/><circle cx="197.4" cy="434.7" r="0.6"/><circle cx="197.8" cy="428.3" r="0.8"/><circle cx="179.0" cy="471.2" r="0.8"/><circle cx="192.8" cy="455.7" r="0.8"/><circle cx="196.2" cy="445.6" r="0.5"/><circle cx="197.9" cy="420.1" r="1.0"/><circle cx="212.2" cy="406.8" r="0.7"/><circle cx="182.7" cy="421.9" r="0.9"/><circle cx="211.3" cy="425.8" r="0.7"/><circle cx="185.1" cy="438.8" r="1.0"/><circle cx="182.8" cy="453.7" r="0.5"/><circle cx="185.2" cy="402.9" r="0.8"/><circle cx="189.9" cy="414.7" r="0.8"/><circle cx="181.9" cy="449.2" r="0.6"/><circle cx="196.9" cy="405.1" r="0.6"/><circle cx="197.6" cy="422.2" r="0.7"/><circle cx="193.3" cy="430.7" r="0.6"/></g></g>
<path d="M192.6,382.5 C197,387 202,392 206,398.5 C210,406 212.5,414 213.5,423 C214.2,431 214.2,438 213.8,445 C213.2,452 211.8,458 209.5,462.5 C207,467.5 203.5,471 199.5,472.3 C195.5,473.5 191.5,473 188,471 C184.5,468.5 182,464 180.5,458.5 C179.2,452 178.8,444 179,436 C179.3,427 180.5,418 182.5,410 C184.5,401 188,392 192.6,382.5 Z" fill="none" stroke="#8a8a8a" stroke-width="0.8"/>
<ellipse cx="251.3" cy="421.2" rx="25" ry="32.6" transform="rotate(4 251.3 421.2)" fill="#d8d8d8" stroke="#656565" stroke-width="1.2"/>
<ellipse cx="251.3" cy="421.2" rx="23" ry="30.6" transform="rotate(4 251.3 421.2)" fill="#c2c2c2"/>
<g clip-path="url(#ce2)"><g fill="#f4f4f4"><circle cx="274.7" cy="433.0" r="1.6"/><circle cx="275.2" cy="398.5" r="1.4"/><circle cx="263.6" cy="435.8" r="1.1"/><circle cx="253.6" cy="426.6" r="1.5"/><circle cx="229.5" cy="413.0" r="1.1"/><circle cx="265.8" cy="396.5" r="0.8"/><circle cx="232.7" cy="396.4" r="1.1"/><circle cx="269.4" cy="411.7" r="0.9"/><circle cx="259.8" cy="410.3" r="1.3"/><circle cx="263.6" cy="418.2" r="1.4"/><circle cx="257.4" cy="443.5" r="1.4"/><circle cx="271.2" cy="436.8" r="1.0"/><circle cx="251.7" cy="438.4" r="1.4"/><circle cx="262.8" cy="443.0" r="1.5"/><circle cx="253.5" cy="430.0" r="0.8"/><circle cx="250.4" cy="435.5" r="1.5"/><circle cx="268.6" cy="417.1" r="1.0"/><circle cx="270.4" cy="431.1" r="1.0"/><circle cx="228.8" cy="445.2" r="1.3"/><circle cx="232.4" cy="452.4" r="1.3"/><circle cx="264.2" cy="440.6" r="1.0"/><circle cx="252.6" cy="400.0" r="1.3"/><circle cx="248.3" cy="439.6" r="0.9"/><circle cx="237.1" cy="413.8" r="0.8"/><circle cx="246.9" cy="450.6" r="1.5"/><circle cx="235.8" cy="442.2" r="1.0"/><circle cx="238.7" cy="429.8" r="1.0"/><circle cx="236.9" cy="394.5" r="0.9"/><circle cx="236.4" cy="447.4" r="0.8"/><circle cx="253.5" cy="402.6" r="1.4"/><circle cx="227.1" cy="412.8" r="1.4"/></g><path d="M269.7,449.7 a2.6,1.9 0 1 0 5.3,0 a2.6,2.6 0 1 0 -5.3,0 M254.0,416.1 a2.0,1.5 0 1 0 4.1,0 a2.0,2.0 0 1 0 -4.1,0 M234.9,417.5 a1.6,1.4 0 1 0 3.1,0 a1.6,1.6 0 1 0 -3.1,0 M225.9,394.5 a2.3,2.0 0 1 0 4.7,0 a2.3,2.3 0 1 0 -4.7,0 M250.3,436.0 a1.8,1.3 0 1 0 3.5,0 a1.8,1.8 0 1 0 -3.5,0 M263.1,426.7 a2.3,2.1 0 1 0 4.5,0 a2.3,2.3 0 1 0 -4.5,0 M272.2,412.2 a2.4,2.0 0 1 0 4.8,0 a2.4,2.4 0 1 0 -4.8,0 M253.3,431.3 a1.7,1.3 0 1 0 3.4,0 a1.7,1.7 0 1 0 -3.4,0 M248.1,434.9 a2.1,1.9 0 1 0 4.3,0 a2.1,2.1 0 1 0 -4.3,0 M257.0,400.6 a1.5,1.2 0 1 0 3.0,0 a1.5,1.5 0 1 0 -3.0,0 M265.6,401.5 a1.4,1.0 0 1 0 2.8,0 a1.4,1.4 0 1 0 -2.8,0 M226.8,406.6 a2.1,2.2 0 1 0 4.2,0 a2.1,2.1 0 1 0 -4.2,0 M241.5,412.7 a1.7,1.4 0 1 0 3.3,0 a1.7,1.7 0 1 0 -3.3,0 M263.5,424.1 a1.6,1.2 0 1 0 3.2,0 a1.6,1.6 0 1 0 -3.2,0 M262.9,434.3 a2.5,2.0 0 1 0 5.1,0 a2.5,2.5 0 1 0 -5.1,0 M251.6,447.8 a2.1,2.3 0 1 0 4.3,0 a2.1,2.1 0 1 0 -4.3,0 M233.9,451.4 a1.3,1.1 0 1 0 2.6,0 a1.3,1.3 0 1 0 -2.6,0 M225.8,440.8 a2.3,2.5 0 1 0 4.6,0 a2.3,2.3 0 1 0 -4.6,0 M264.4,449.7 a2.1,2.3 0 1 0 4.1,0 a2.1,2.1 0 1 0 -4.1,0 M260.9,411.2 a2.8,2.3 0 1 0 5.5,0 a2.8,2.8 0 1 0 -5.5,0 M234.5,393.9 a1.9,1.5 0 1 0 3.9,0 a1.9,1.9 0 1 0 -3.9,0 M271.2,449.8 a1.5,1.1 0 1 0 3.1,0 a1.5,1.5 0 1 0 -3.1,0 M250.8,399.9 a2.1,2.1 0 1 0 4.1,0 a2.1,2.1 0 1 0 -4.1,0 M236.8,416.0 a2.6,2.3 0 1 0 5.3,0 a2.6,2.6 0 1 0 -5.3,0 M241.3,446.1 a2.5,2.6 0 1 0 5.0,0 a2.5,2.5 0 1 0 -5.0,0 M258.4,415.4 a2.3,2.4 0 1 0 4.6,0 a2.3,2.3 0 1 0 -4.6,0 M256.7,404.3 a1.7,1.4 0 1 0 3.3,0 a1.7,1.7 0 1 0 -3.3,0 M262.7,424.7 a2.1,2.1 0 1 0 4.2,0 a2.1,2.1 0 1 0 -4.2,0 M230.6,429.4 a1.7,1.6 0 1 0 3.5,0 a1.7,1.7 0 1 0 -3.5,0 M265.2,404.9 a2.7,2.0 0 1 0 5.4,0 a2.7,2.7 0 1 0 -5.4,0 M253.0,423.7 a1.6,1.5 0 1 0 3.2,0 a1.6,1.6 0 1 0 -3.2,0 M247.7,417.8 a2.3,1.6 0 1 0 4.7,0 a2.3,2.3 0 1 0 -4.7,0 M244.1,439.3 a1.4,1.5 0 1 0 2.9,0 a1.4,1.4 0 1 0 -2.9,0 M235.5,432.6 a1.5,1.3 0 1 0 3.0,0 a1.5,1.5 0 1 0 -3.0,0 M245.4,394.2 a2.3,2.1 0 1 0 4.6,0 a2.3,2.3 0 1 0 -4.6,0 M258.7,423.5 a2.1,1.9 0 1 0 4.2,0 a2.1,2.1 0 1 0 -4.2,0 M240.3,446.5 a1.3,1.4 0 1 0 2.7,0 a1.3,1.3 0 1 0 -2.7,0 M266.9,420.9 a2.4,2.4 0 1 0 4.9,0 a2.4,2.4 0 1 0 -4.9,0 M254.9,407.7 a1.7,1.4 0 1 0 3.4,0 a1.7,1.7 0 1 0 -3.4,0 M240.1,450.4 a1.7,1.5 0 1 0 3.5,0 a1.7,1.7 0 1 0 -3.5,0 M245.6,441.3 a2.0,1.8 0 1 0 3.9,0 a2.0,2.0 0 1 0 -3.9,0 M238.2,406.8 a1.3,1.1 0 1 0 2.7,0 a1.3,1.3 0 1 0 -2.7,0 M237.9,443.5 a2.0,1.5 0 1 0 4.0,0 a2.0,2.0 0 1 0 -4.0,0 M247.6,396.7 a2.1,1.8 0 1 0 4.2,0 a2.1,2.1 0 1 0 -4.2,0 M266.5,405.6 a2.6,2.0 0 1 0 5.1,0 a2.6,2.6 0 1 0 -5.1,0 M273.9,429.6 a1.3,1.3 0 1 0 2.5,0 a1.3,1.3 0 1 0 -2.5,0 M239.1,412.2 a1.4,1.5 0 1 0 2.9,0 a1.4,1.4 0 1 0 -2.9,0 M229.6,436.2 a1.8,1.8 0 1 0 3.7,0 a1.8,1.8 0 1 0 -3.7,0 M238.7,394.0 a2.7,2.6 0 1 0 5.3,0 a2.7,2.7 0 1 0 -5.3,0 M232.7,451.5 a2.7,2.1 0 1 0 5.3,0 a2.7,2.7 0 1 0 -5.3,0 M226.5,428.1 a1.4,1.4 0 1 0 2.8,0 a1.4,1.4 0 1 0 -2.8,0 M247.9,434.4 a2.1,2.1 0 1 0 4.2,0 a2.1,2.1 0 1 0 -4.2,0 M265.1,427.6 a2.1,1.8 0 1 0 4.3,0 a2.1,2.1 0 1 0 -4.3,0 M231.0,394.9 a2.6,2.0 0 1 0 5.1,0 a2.6,2.6 0 1 0 -5.1,0 M245.7,409.3 a2.2,2.0 0 1 0 4.4,0 a2.2,2.2 0 1 0 -4.4,0 M267.3,416.9 a1.8,1.7 0 1 0 3.6,0 a1.8,1.8 0 1 0 -3.6,0 M261.8,448.2 a1.7,1.8 0 1 0 3.4,0 a1.7,1.7 0 1 0 -3.4,0 M273.7,451.9 a1.4,1.2 0 1 0 2.8,0 a1.4,1.4 0 1 0 -2.8,0 M263.7,442.2 a1.3,1.1 0 1 0 2.5,0 a1.3,1.3 0 1 0 -2.5,0 M260.4,437.5 a2.1,1.6 0 1 0 4.1,0 a2.1,2.1 0 1 0 -4.1,0 M245.2,392.7 a1.7,1.5 0 1 0 3.4,0 a1.7,1.7 0 1 0 -3.4,0 M265.5,426.7 a1.9,1.5 0 1 0 3.7,0 a1.9,1.9 0 1 0 -3.7,0 M240.5,431.9 a1.9,1.5 0 1 0 3.8,0 a1.9,1.9 0 1 0 -3.8,0 M264.5,425.8 a2.7,2.5 0 1 0 5.5,0 a2.7,2.7 0 1 0 -5.5,0 M255.4,416.4 a2.2,2.3 0 1 0 4.3,0 a2.2,2.2 0 1 0 -4.3,0 M273.2,431.3 a1.9,1.4 0 1 0 3.8,0 a1.9,1.9 0 1 0 -3.8,0 M266.4,414.1 a1.8,1.3 0 1 0 3.6,0 a1.8,1.8 0 1 0 -3.6,0 M225.9,414.0 a2.8,2.7 0 1 0 5.5,0 a2.8,2.8 0 1 0 -5.5,0 M260.1,431.8 a1.6,1.3 0 1 0 3.3,0 a1.6,1.6 0 1 0 -3.3,0 M254.4,393.1 a2.1,1.9 0 1 0 4.3,0 a2.1,2.1 0 1 0 -4.3,0 M252.3,396.8 a1.3,1.2 0 1 0 2.6,0 a1.3,1.3 0 1 0 -2.6,0 M232.4,430.1 a1.7,1.6 0 1 0 3.4,0 a1.7,1.7 0 1 0 -3.4,0 M261.7,427.8 a2.1,1.6 0 1 0 4.1,0 a2.1,2.1 0 1 0 -4.1,0 M242.4,451.6 a1.6,1.3 0 1 0 3.3,0 a1.6,1.6 0 1 0 -3.3,0 M248.7,423.9 a2.5,2.0 0 1 0 4.9,0 a2.5,2.5 0 1 0 -4.9,0 M271.7,390.4 a2.5,2.3 0 1 0 4.9,0 a2.5,2.5 0 1 0 -4.9,0 M268.9,398.8 a2.3,2.5 0 1 0 4.6,0 a2.3,2.3 0 1 0 -4.6,0 M257.0,396.2 a2.7,2.9 0 1 0 5.3,0 a2.7,2.7 0 1 0 -5.3,0 M231.1,441.9 a1.3,1.0 0 1 0 2.7,0 a1.3,1.3 0 1 0 -2.7,0 M263.2,435.1 a2.7,2.6 0 1 0 5.5,0 a2.7,2.7 0 1 0 -5.5,0 M250.0,406.4 a2.1,2.3 0 1 0 4.2,0 a2.1,2.1 0 1 0 -4.2,0 M257.2,445.0 a1.5,1.5 0 1 0 3.0,0 a1.5,1.5 0 1 0 -3.0,0 M260.3,393.5 a2.5,1.9 0 1 0 5.0,0 a2.5,2.5 0 1 0 -5.0,0 M235.4,392.9 a2.3,1.7 0 1 0 4.5,0 a2.3,2.3 0 1 0 -4.5,0 M272.3,389.0 a2.5,2.5 0 1 0 5.0,0 a2.5,2.5 0 1 0 -5.0,0 M252.4,425.6 a2.5,2.4 0 1 0 5.0,0 a2.5,2.5 0 1 0 -5.0,0 M232.1,440.0 a1.8,1.6 0 1 0 3.5,0 a1.8,1.8 0 1 0 -3.5,0 M250.2,446.9 a1.9,1.9 0 1 0 3.7,0 a1.9,1.9 0 1 0 -3.7,0 M228.7,409.9 a2.3,2.1 0 1 0 4.5,0 a2.3,2.3 0 1 0 -4.5,0 M265.3,402.3 a2.5,2.5 0 1 0 5.0,0 a2.5,2.5 0 1 0 -5.0,0 M231.9,397.9 a2.1,2.3 0 1 0 4.3,0 a2.1,2.1 0 1 0 -4.3,0 M255.1,416.4 a2.0,2.1 0 1 0 4.0,0 a2.0,2.0 0 1 0 -4.0,0 M250.4,423.4 a2.1,2.3 0 1 0 4.3,0 a2.1,2.1 0 1 0 -4.3,0 M264.6,442.7 a1.6,1.5 0 1 0 3.3,0 a1.6,1.6 0 1 0 -3.3,0 M264.6,435.0 a2.7,2.9 0 1 0 5.4,0 a2.7,2.7 0 1 0 -5.4,0" fill="none" stroke="#8a8a8a" stroke-width="0.7"/><g fill="#6a6a6a"><circle cx="233.3" cy="421.5" r="0.7"/><circle cx="237.1" cy="421.1" r="1.0"/><circle cx="264.6" cy="395.3" r="0.6"/><circle cx="245.1" cy="445.6" r="0.7"/><circle cx="234.8" cy="424.2" r="0.6"/><circle cx="228.9" cy="426.9" r="1.0"/><circle cx="265.0" cy="436.1" r="0.6"/><circle cx="254.5" cy="429.8" r="0.9"/><circle cx="248.9" cy="392.4" r="1.0"/><circle cx="240.0" cy="436.3" r="0.7"/><circle cx="265.2" cy="410.6" r="0.5"/><circle cx="248.0" cy="419.7" r="0.9"/><circle cx="246.8" cy="431.7" r="0.7"/><circle cx="262.9" cy="400.2" r="0.9"/><circle cx="273.3" cy="390.5" r="0.9"/><circle cx="265.1" cy="433.4" r="0.6"/><circle cx="262.9" cy="438.4" r="0.8"/><circle cx="274.2" cy="449.6" r="0.8"/><circle cx="272.3" cy="398.2" r="0.6"/><circle cx="253.0" cy="422.5" r="1.0"/><circle cx="258.2" cy="428.8" r="0.8"/><circle cx="273.3" cy="414.6" r="0.9"/><circle cx="256.4" cy="414.8" r="0.7"/><circle cx="234.5" cy="389.7" r="0.7"/><circle cx="241.7" cy="394.2" r="0.7"/><circle cx="244.2" cy="448.3" r="0.9"/><circle cx="259.6" cy="443.2" r="0.6"/><circle cx="232.7" cy="428.0" r="0.6"/><circle cx="275.3" cy="416.2" r="0.9"/><circle cx="239.0" cy="395.0" r="0.8"/><circle cx="261.0" cy="405.4" r="1.0"/></g></g>
<ellipse cx="251.3" cy="421.2" rx="23" ry="30.6" transform="rotate(4 251.3 421.2)" fill="none" stroke="#8a8a8a" stroke-width="0.8"/>
<path d="M308.9,375 C312.5,375.5 315,377.5 317,381 C320.5,387 323.5,394 325.8,401.9 C328.5,411 330.2,420 330.3,429 C330.3,438 328.8,446 326,453 C323.5,459 320,464 315.6,467.8 C313.8,470.5 312.3,474 311.2,478.6 C310,474 308.2,470 305,466 C299.5,460 295,452 292.3,443 C289.8,434 289.2,425 289.7,417 C290.5,408 292.3,399.5 295,392 C297.5,385 301,379.5 304.5,376.5 C305.8,375.4 307.3,375 308.9,375 Z" fill="#dcdcdc" stroke="#656565" stroke-width="1.2"/>
<path d="M308.5,378.5 C313,379.5 316.5,384 319.5,390 C323,397.5 325.8,406 327.2,415 C328.3,424 328,433 326.3,441 C324.3,449.5 320.5,456.5 315.2,462 C313,464.3 311,465.3 309,465.2 C306,464.8 303,461.5 300,457 C296,451 293.5,443 292.5,434.5 C291.6,426 292,417 293.8,408.5 C295.7,399.5 299,391.5 302.8,385 C304.5,381.5 306.3,379 308.5,378.5 Z" fill="#c4c4c4"/>
<g clip-path="url(#ce3)"><g fill="#f4f4f4"><circle cx="310.0" cy="380.5" r="1.2"/><circle cx="328.4" cy="410.6" r="1.3"/><circle cx="295.9" cy="436.0" r="1.1"/><circle cx="328.0" cy="423.6" r="1.4"/><circle cx="303.5" cy="407.1" r="1.4"/><circle cx="310.2" cy="432.6" r="1.5"/><circle cx="295.1" cy="408.7" r="1.5"/><circle cx="316.0" cy="448.4" r="1.3"/><circle cx="318.7" cy="383.8" r="0.9"/><circle cx="320.1" cy="441.9" r="1.0"/><circle cx="308.1" cy="454.7" r="1.5"/><circle cx="300.3" cy="464.9" r="1.6"/><circle cx="304.5" cy="423.2" r="0.9"/><circle cx="307.3" cy="394.8" r="1.0"/><circle cx="315.4" cy="450.8" r="1.1"/><circle cx="328.2" cy="385.4" r="1.3"/><circle cx="328.9" cy="387.5" r="1.0"/><circle cx="308.2" cy="398.6" r="1.5"/><circle cx="310.8" cy="377.3" r="1.1"/><circle cx="306.6" cy="432.7" r="1.0"/><circle cx="320.5" cy="414.2" r="1.3"/><circle cx="307.9" cy="459.6" r="0.9"/><circle cx="319.1" cy="451.2" r="1.6"/><circle cx="292.2" cy="395.3" r="1.1"/><circle cx="323.9" cy="437.6" r="1.2"/><circle cx="315.6" cy="422.7" r="1.5"/><circle cx="308.9" cy="413.8" r="0.9"/><circle cx="317.9" cy="386.5" r="1.2"/><circle cx="294.8" cy="421.3" r="1.3"/><circle cx="323.1" cy="429.4" r="1.4"/></g><path d="M314.7,385.2 a2.2,2.3 0 1 0 4.4,0 a2.2,2.2 0 1 0 -4.4,0 M320.5,422.8 a2.2,1.9 0 1 0 4.4,0 a2.2,2.2 0 1 0 -4.4,0 M308.8,386.6 a2.3,2.2 0 1 0 4.6,0 a2.3,2.3 0 1 0 -4.6,0 M299.3,410.7 a2.4,2.1 0 1 0 4.8,0 a2.4,2.4 0 1 0 -4.8,0 M324.9,463.4 a2.5,1.9 0 1 0 5.1,0 a2.5,2.5 0 1 0 -5.1,0 M292.1,402.7 a1.8,1.7 0 1 0 3.6,0 a1.8,1.8 0 1 0 -3.6,0 M320.2,427.1 a2.2,2.1 0 1 0 4.4,0 a2.2,2.2 0 1 0 -4.4,0 M290.8,423.9 a1.5,1.3 0 1 0 3.1,0 a1.5,1.5 0 1 0 -3.1,0 M288.7,435.4 a2.7,1.9 0 1 0 5.3,0 a2.7,2.7 0 1 0 -5.3,0 M311.3,379.1 a1.8,1.3 0 1 0 3.5,0 a1.8,1.8 0 1 0 -3.5,0 M321.1,441.8 a2.6,2.1 0 1 0 5.3,0 a2.6,2.6 0 1 0 -5.3,0 M316.3,439.3 a2.0,2.2 0 1 0 4.0,0 a2.0,2.0 0 1 0 -4.0,0 M312.4,402.2 a2.3,2.1 0 1 0 4.7,0 a2.3,2.3 0 1 0 -4.7,0 M297.8,432.0 a1.3,1.1 0 1 0 2.6,0 a1.3,1.3 0 1 0 -2.6,0 M309.9,377.2 a2.2,1.6 0 1 0 4.5,0 a2.2,2.2 0 1 0 -4.5,0 M314.4,407.4 a1.2,1.4 0 1 0 2.5,0 a1.2,1.2 0 1 0 -2.5,0 M291.4,390.9 a2.0,1.6 0 1 0 4.0,0 a2.0,2.0 0 1 0 -4.0,0 M309.0,419.2 a2.1,1.9 0 1 0 4.2,0 a2.1,2.1 0 1 0 -4.2,0 M299.9,395.8 a2.3,2.0 0 1 0 4.6,0 a2.3,2.3 0 1 0 -4.6,0 M309.6,458.5 a1.2,1.0 0 1 0 2.4,0 a1.2,1.2 0 1 0 -2.4,0 M310.0,381.8 a2.4,2.1 0 1 0 4.8,0 a2.4,2.4 0 1 0 -4.8,0 M300.3,394.3 a2.7,2.0 0 1 0 5.5,0 a2.7,2.7 0 1 0 -5.5,0 M319.6,439.7 a2.6,2.6 0 1 0 5.3,0 a2.6,2.6 0 1 0 -5.3,0 M301.5,425.9 a2.7,1.9 0 1 0 5.3,0 a2.7,2.7 0 1 0 -5.3,0 M321.8,436.9 a1.5,1.6 0 1 0 3.0,0 a1.5,1.5 0 1 0 -3.0,0 M300.8,377.4 a1.6,1.5 0 1 0 3.3,0 a1.6,1.6 0 1 0 -3.3,0 M290.1,429.7 a1.9,1.6 0 1 0 3.8,0 a1.9,1.9 0 1 0 -3.8,0 M317.0,432.0 a2.7,2.9 0 1 0 5.5,0 a2.7,2.7 0 1 0 -5.5,0 M321.1,460.0 a2.6,2.3 0 1 0 5.1,0 a2.6,2.6 0 1 0 -5.1,0 M291.4,416.8 a2.2,2.4 0 1 0 4.4,0 a2.2,2.2 0 1 0 -4.4,0 M314.5,428.1 a1.3,1.3 0 1 0 2.7,0 a1.3,1.3 0 1 0 -2.7,0 M291.1,389.8 a1.3,1.3 0 1 0 2.5,0 a1.3,1.3 0 1 0 -2.5,0 M325.4,429.9 a1.3,1.3 0 1 0 2.7,0 a1.3,1.3 0 1 0 -2.7,0 M295.3,440.1 a2.3,2.5 0 1 0 4.6,0 a2.3,2.3 0 1 0 -4.6,0 M295.6,397.8 a1.7,1.2 0 1 0 3.4,0 a1.7,1.7 0 1 0 -3.4,0 M325.6,432.4 a1.4,1.2 0 1 0 2.7,0 a1.4,1.4 0 1 0 -2.7,0 M293.0,462.8 a1.8,1.2 0 1 0 3.6,0 a1.8,1.8 0 1 0 -3.6,0 M316.9,406.4 a2.2,2.3 0 1 0 4.5,0 a2.2,2.2 0 1 0 -4.5,0 M291.1,425.6 a2.7,2.2 0 1 0 5.4,0 a2.7,2.7 0 1 0 -5.4,0 M299.2,437.0 a1.3,1.3 0 1 0 2.6,0 a1.3,1.3 0 1 0 -2.6,0 M318.9,461.2 a2.5,2.4 0 1 0 5.1,0 a2.5,2.5 0 1 0 -5.1,0 M306.3,424.7 a2.2,2.4 0 1 0 4.4,0 a2.2,2.2 0 1 0 -4.4,0 M294.9,421.0 a1.9,1.5 0 1 0 3.8,0 a1.9,1.9 0 1 0 -3.8,0 M295.1,446.7 a2.1,2.1 0 1 0 4.3,0 a2.1,2.1 0 1 0 -4.3,0 M299.3,419.7 a1.5,1.1 0 1 0 2.9,0 a1.5,1.5 0 1 0 -2.9,0 M293.6,434.7 a2.6,2.4 0 1 0 5.1,0 a2.6,2.6 0 1 0 -5.1,0 M318.6,384.0 a2.0,1.5 0 1 0 4.1,0 a2.0,2.0 0 1 0 -4.1,0 M309.3,399.2 a1.6,1.7 0 1 0 3.2,0 a1.6,1.6 0 1 0 -3.2,0 M309.9,398.6 a2.0,1.6 0 1 0 4.0,0 a2.0,2.0 0 1 0 -4.0,0 M318.7,412.4 a2.5,2.4 0 1 0 5.1,0 a2.5,2.5 0 1 0 -5.1,0 M313.6,431.1 a2.1,1.6 0 1 0 4.3,0 a2.1,2.1 0 1 0 -4.3,0 M319.5,431.7 a1.6,1.4 0 1 0 3.1,0 a1.6,1.6 0 1 0 -3.1,0 M325.1,435.2 a2.1,1.9 0 1 0 4.2,0 a2.1,2.1 0 1 0 -4.2,0 M291.7,421.2 a1.9,1.8 0 1 0 3.8,0 a1.9,1.9 0 1 0 -3.8,0 M302.2,389.8 a2.6,2.0 0 1 0 5.1,0 a2.6,2.6 0 1 0 -5.1,0 M296.9,415.8 a2.7,2.7 0 1 0 5.4,0 a2.7,2.7 0 1 0 -5.4,0 M294.4,385.5 a2.0,1.4 0 1 0 4.0,0 a2.0,2.0 0 1 0 -4.0,0 M297.1,387.1 a2.6,2.7 0 1 0 5.2,0 a2.6,2.6 0 1 0 -5.2,0 M322.8,435.2 a1.3,1.0 0 1 0 2.5,0 a1.3,1.3 0 1 0 -2.5,0 M320.5,380.6 a2.0,2.0 0 1 0 4.0,0 a2.0,2.0 0 1 0 -4.0,0 M298.5,407.9 a2.2,2.1 0 1 0 4.4,0 a2.2,2.2 0 1 0 -4.4,0 M295.5,447.3 a1.3,1.0 0 1 0 2.7,0 a1.3,1.3 0 1 0 -2.7,0 M301.0,394.9 a1.9,1.6 0 1 0 3.9,0 a1.9,1.9 0 1 0 -3.9,0 M316.2,449.7 a2.4,2.5 0 1 0 4.9,0 a2.4,2.4 0 1 0 -4.9,0 M298.1,435.5 a2.5,2.5 0 1 0 4.9,0 a2.5,2.5 0 1 0 -4.9,0 M305.2,456.8 a1.8,1.9 0 1 0 3.5,0 a1.8,1.8 0 1 0 -3.5,0 M313.8,382.7 a2.7,2.7 0 1 0 5.3,0 a2.7,2.7 0 1 0 -5.3,0 M309.1,462.2 a2.6,2.7 0 1 0 5.2,0 a2.6,2.6 0 1 0 -5.2,0 M318.6,440.9 a1.4,1.3 0 1 0 2.8,0 a1.4,1.4 0 1 0 -2.8,0 M289.8,422.1 a1.5,1.4 0 1 0 3.0,0 a1.5,1.5 0 1 0 -3.0,0 M323.7,395.2 a2.1,1.7 0 1 0 4.2,0 a2.1,2.1 0 1 0 -4.2,0 M326.6,421.1 a1.5,1.4 0 1 0 3.0,0 a1.5,1.5 0 1 0 -3.0,0 M306.8,423.1 a1.9,1.5 0 1 0 3.8,0 a1.9,1.9 0 1 0 -3.8,0 M294.1,430.5 a1.4,1.2 0 1 0 2.8,0 a1.4,1.4 0 1 0 -2.8,0 M311.0,447.3 a1.4,1.2 0 1 0 2.9,0 a1.4,1.4 0 1 0 -2.9,0 M292.6,398.2 a2.7,2.7 0 1 0 5.5,0 a2.7,2.7 0 1 0 -5.5,0 M291.9,464.4 a1.7,1.6 0 1 0 3.5,0 a1.7,1.7 0 1 0 -3.5,0 M319.4,396.7 a1.7,1.4 0 1 0 3.3,0 a1.7,1.7 0 1 0 -3.3,0 M312.3,463.4 a1.5,1.6 0 1 0 2.9,0 a1.5,1.5 0 1 0 -2.9,0 M311.5,418.7 a1.3,1.3 0 1 0 2.6,0 a1.3,1.3 0 1 0 -2.6,0 M292.3,452.1 a1.6,1.7 0 1 0 3.3,0 a1.6,1.6 0 1 0 -3.3,0 M317.9,409.8 a1.7,1.5 0 1 0 3.3,0 a1.7,1.7 0 1 0 -3.3,0 M305.9,413.3 a2.8,2.3 0 1 0 5.6,0 a2.8,2.8 0 1 0 -5.6,0 M302.4,443.2 a1.9,1.5 0 1 0 3.8,0 a1.9,1.9 0 1 0 -3.8,0 M305.4,387.4 a1.5,1.5 0 1 0 2.9,0 a1.5,1.5 0 1 0 -2.9,0 M306.8,417.3 a1.9,1.5 0 1 0 3.9,0 a1.9,1.9 0 1 0 -3.9,0 M293.4,378.0 a2.1,1.8 0 1 0 4.3,0 a2.1,2.1 0 1 0 -4.3,0 M314.1,405.5 a2.4,2.6 0 1 0 4.9,0 a2.4,2.4 0 1 0 -4.9,0 M303.7,432.2 a1.5,1.4 0 1 0 2.9,0 a1.5,1.5 0 1 0 -2.9,0 M299.3,416.9 a2.5,2.6 0 1 0 5.0,0 a2.5,2.5 0 1 0 -5.0,0" fill="none" stroke="#8a8a8a" stroke-width="0.7"/><g fill="#6a6a6a"><circle cx="306.8" cy="437.4" r="0.8"/><circle cx="305.6" cy="384.5" r="0.5"/><circle cx="296.5" cy="414.3" r="0.6"/><circle cx="298.1" cy="403.2" r="0.7"/><circle cx="319.9" cy="448.7" r="0.9"/><circle cx="312.5" cy="380.8" r="0.9"/><circle cx="320.9" cy="387.1" r="0.6"/><circle cx="308.3" cy="395.8" r="1.0"/><circle cx="314.9" cy="427.8" r="0.6"/><circle cx="306.0" cy="425.7" r="0.9"/><circle cx="303.9" cy="414.6" r="0.7"/><circle cx="309.5" cy="405.5" r="0.6"/><circle cx="312.3" cy="457.5" r="1.0"/><circle cx="326.9" cy="408.5" r="1.0"/><circle cx="296.0" cy="400.4" r="0.6"/><circle cx="314.7" cy="399.8" r="0.6"/><circle cx="295.6" cy="438.9" r="0.8"/><circle cx="308.5" cy="432.1" r="0.9"/><circle cx="327.4" cy="396.5" r="0.9"/><circle cx="314.5" cy="440.5" r="0.6"/><circle cx="327.7" cy="410.1" r="0.5"/><circle cx="310.7" cy="406.0" r="0.9"/><circle cx="315.1" cy="450.0" r="0.9"/><circle cx="320.9" cy="409.8" r="0.8"/><circle cx="309.9" cy="439.7" r="0.8"/><circle cx="313.3" cy="406.9" r="0.7"/><circle cx="305.7" cy="447.3" r="1.0"/><circle cx="316.8" cy="408.7" r="0.6"/><circle cx="328.1" cy="461.4" r="0.9"/><circle cx="324.7" cy="425.7" r="0.9"/></g></g>
<path d="M308.5,378.5 C313,379.5 316.5,384 319.5,390 C323,397.5 325.8,406 327.2,415 C328.3,424 328,433 326.3,441 C324.3,449.5 320.5,456.5 315.2,462 C313,464.3 311,465.3 309,465.2 C306,464.8 303,461.5 300,457 C296,451 293.5,443 292.5,434.5 C291.6,426 292,417 293.8,408.5 C295.7,399.5 299,391.5 302.8,385 C304.5,381.5 306.3,379 308.5,378.5 Z" fill="none" stroke="#8a8a8a" stroke-width="0.8"/>
</g>

<!-- ===== ADULT WORM ===== -->
<g fill="none" stroke-linecap="round" stroke-linejoin="round">
<!-- dangling tail -->
<path id="wt" d="M531,380 C530,392 532,402 535,411 C537,417 539,421 540.5,424" stroke="#000" stroke-width="7.4"/>
<path d="M531,380 C530,392 532,402 535,411 C537,417 539,421 540.5,424" stroke="#fff" stroke-width="3.6"/>
<path d="M532.5,388 C533,398 535,407 538.5,418" stroke="#333" stroke-width="0.8"/>
<!-- male body loop -->
<path d="M540,321 C548,318 558,319 566,325 C574,332 579,345 580,359 C581,373 577,384 567,391 C558,397 546,397 538,391 C531,386 528,378 529,370 C530,362 536,357.5 544,357 C550.5,357 554,361 553.5,366.5 C553,370 550.5,372.5 548,372.5" stroke="#000" stroke-width="11.5"/>
<path d="M540,321 C548,318 558,319 566,325 C574,332 579,345 580,359 C581,373 577,384 567,391 C558,397 546,397 538,391 C531,386 528,378 529,370 C530,362 536,357.5 544,357 C550.5,357 554,361 553.5,366.5 C553,370 550.5,372.5 548,372.5" stroke="#fff" stroke-width="7.6"/>
<!-- hatching inside male -->
<path d="M545,320.5 C555,320 563,324 570,330.5 C577,338 580.5,348 581,359 C581.5,372 577.5,383 568,390 C559,395.5 547,395.5 539,389.5" stroke="#1a1a1a" stroke-width="2" stroke-dasharray="2.5 1.8"/>
<!-- female inside canal -->
<path d="M546,323 C555,322 563,327 569,335 C574,344 575,356 575,366 C574,376 570,384 563,388 C555,393 545,393 538,387" stroke="#000" stroke-width="1.1"/>
<path d="M549,326 C557,326 563,331 567,338 C571,347 571.5,357 571,366 C570.5,375 567,382 561,385" stroke="#000" stroke-width="0.9"/>
<!-- female front body -->
<path d="M511,316 C506,322 506,330 512,334 C518,338 528,338 537,335 C546,332 556,329 566,331" stroke="#000" stroke-width="6.6"/>
<path d="M511,316 C506,322 506,330 512,334 C518,338 528,338 537,335 C546,332 556,329 566,331" stroke="#fff" stroke-width="3"/>
<path d="M508.5,312 C511,309.5 515,310 517,313 C519,316 518.5,319 516.5,320" stroke="#000" stroke-width="3.8"/>
<path d="M508.5,312 C511,309.5 515,310 517,313" stroke="#fff" stroke-width="1.3"/>
<circle cx="517.5" cy="319" r="1.8" fill="#000" stroke="none"/>
<!-- male anterior (upright) -->
<path d="M533.5,289.3 C535.5,288 538,288.6 538.6,291 C539.5,295 541.5,300 542.6,305 C543.6,310 544.6,315 545,320 L531,321 C529.8,316 528.8,311 528.4,306 C528,301 528.2,297 529.5,294 C530.5,291.5 531.8,290 533.5,289.3 Z" fill="#fff" stroke="#000" stroke-width="1.7"/>
<path d="M533.5,292 C533.5,298 534.5,306 536.5,314 M537.5,293 C538.5,299 540,306 541.5,314" stroke="#222" stroke-width="0.9"/>
<ellipse cx="535.8" cy="322.8" rx="5.2" ry="3.8" fill="#111" stroke="none"/>
<!-- crossing over part near tail -->
<path d="M528,380 C534,381 540,385 546,390" stroke="#000" stroke-width="5"/>
<path d="M528,380 C534,381 540,385 546,390" stroke="#fff" stroke-width="2.4"/>
</g>

<!-- ===== PRAZIQUANTEL ===== -->
<g class="chem">
<path d="M199.9,252.5 L208.1,234.5 L231.8,234.5 L240.8,252.5 L232.7,271.3 L208.9,271.3 Z"/>
<path d="M204.5,251 L211,237.5 M230,238.5 L236.8,252 M212,266.5 L229.5,266.5"/>
<path d="M231.8,234.5 L242.5,214.8 L265.4,214.8 L270,225"/>
<path d="M270,241 L265.4,252.5 L240.8,252.5"/>
<path d="M279.5,234.2 L296.5,234.5 L308,253.3 L301,264"/>
<path d="M265.4,252.5 L275.2,271.3 L290,271.3"/>
<path d="M296.5,234.5 L302,224 M292.5,232 L298.5,221.5"/>
<path d="M299.5,277 L307.8,289.5 L329.1,289.5"/>
<path d="M309.2,290.3 L300.8,302.8 M305.6,288.2 L297.6,300.6"/>
<path d="M329.1,289.5 L338.9,271.1 L360.2,271.1 L372.5,289.5 L361,308 L338.9,308 Z"/>
</g>
<g font-family="Liberation Sans" font-size="14.5" font-weight="bold" fill="#000" text-anchor="middle">
<text x="273.6" y="237.5">N</text>
<text x="296.5" y="275.5">N</text>
<text x="306.3" y="219.5">O</text>
<text x="295.6" y="312">O</text>
</g>

</svg>
</body></html>
